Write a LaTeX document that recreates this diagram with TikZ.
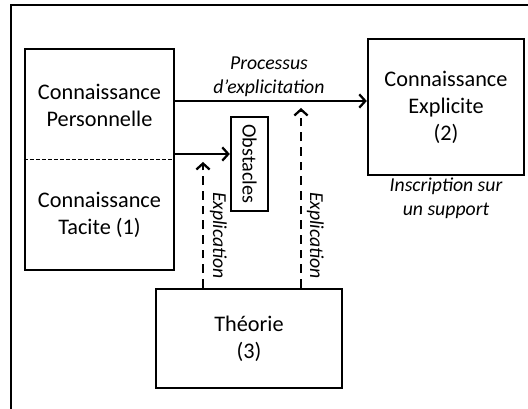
\documentclass[tikz,border=0pt]{standalone}
\usepackage{fontspec}
\setmainfont{Carlito}
\usetikzlibrary{arrows.meta}
\begin{document}
\begin{tikzpicture}[x=0.75pt,y=-0.75pt,
  box/.style={draw=black,line width=1.8pt,inner sep=0pt},
  main/.style={font=\fontsize{16.7}{20.3}\selectfont,align=center,inner sep=0pt},
  lab/.style={font=\fontsize{14.8}{18}\selectfont\itshape,align=center,inner sep=0pt},
  arr/.style={line width=1.7pt,-{Straight Barb[length=4.5pt,width=10pt,line width=1.7pt]}},
  darr/.style={arr,dash pattern=on 6.5pt off 4.5pt},
  frame/.style={line width=1.8pt}]
\useasboundingbox (0,0) rectangle (528,409);
% outer frame (cut off at right and bottom)
\coordinate (fbl) at (11,409);
\coordinate (ftl) at (11,5);
\coordinate (ftr) at (528,5);
\draw[frame] (fbl) -- (ftl) -- (ftr);
% boxes
\node[box,minimum width=111.75pt,minimum height=165.75pt] (left) at (99.5,159.5) {};
\node[box,minimum width=117pt,minimum height=102pt] (expl) at (446,107) {};
\node[box,minimum width=27.75pt,minimum height=70.5pt] (obst) at (249.5,164) {};
\node[box,minimum width=139.5pt,minimum height=74.25pt] (theo) at (249,338.5) {};
\draw[line width=0.7pt,dash pattern=on 3pt off 1.5pt] (left.west) -- (left.east);
% texts
\node[main] (pers) at (99.5,105.5) {Connaissance\\Personnelle};
\node[main] (tacit) at (99.5,215) {Connaissance\\Tacite (1)};
\node[main] (expltext) at (446,107.5) {Connaissance\\Explicite\\(2)};
\node[main] (theotext) at (249,339) {Théorie\\(3)};
\node[font=\fontsize{15.2}{18}\selectfont,rotate=-90,inner sep=0pt] (obsttext) at (249.5,164) {Obstacles};
\node[lab] (proc) at (269,77) {Processus\\d’explicitation};
\node[lab] (insc) at (446,198.5) {Inscription sur\\un support};
% arrows
\coordinate (a1) at (0,101);
\coordinate (a2) at (0,154);
\draw[arr] (left.east |- a1) -- (expl.west |- a1);
\draw[arr] (left.east |- a2) -- (obst.west |- a2);
\coordinate (d1) at (203,162);
\coordinate (d2) at (301,108);
\draw[darr] (theo.north -| d1) -- (d1);
\draw[darr] (theo.north -| d2) -- (d2);
\node[lab,rotate=-90] (ex1) at (218.5,235.5) {Explication};
\node[lab,rotate=-90] (ex2) at (315.5,235.5) {Explication};
\end{tikzpicture}
\end{document}
